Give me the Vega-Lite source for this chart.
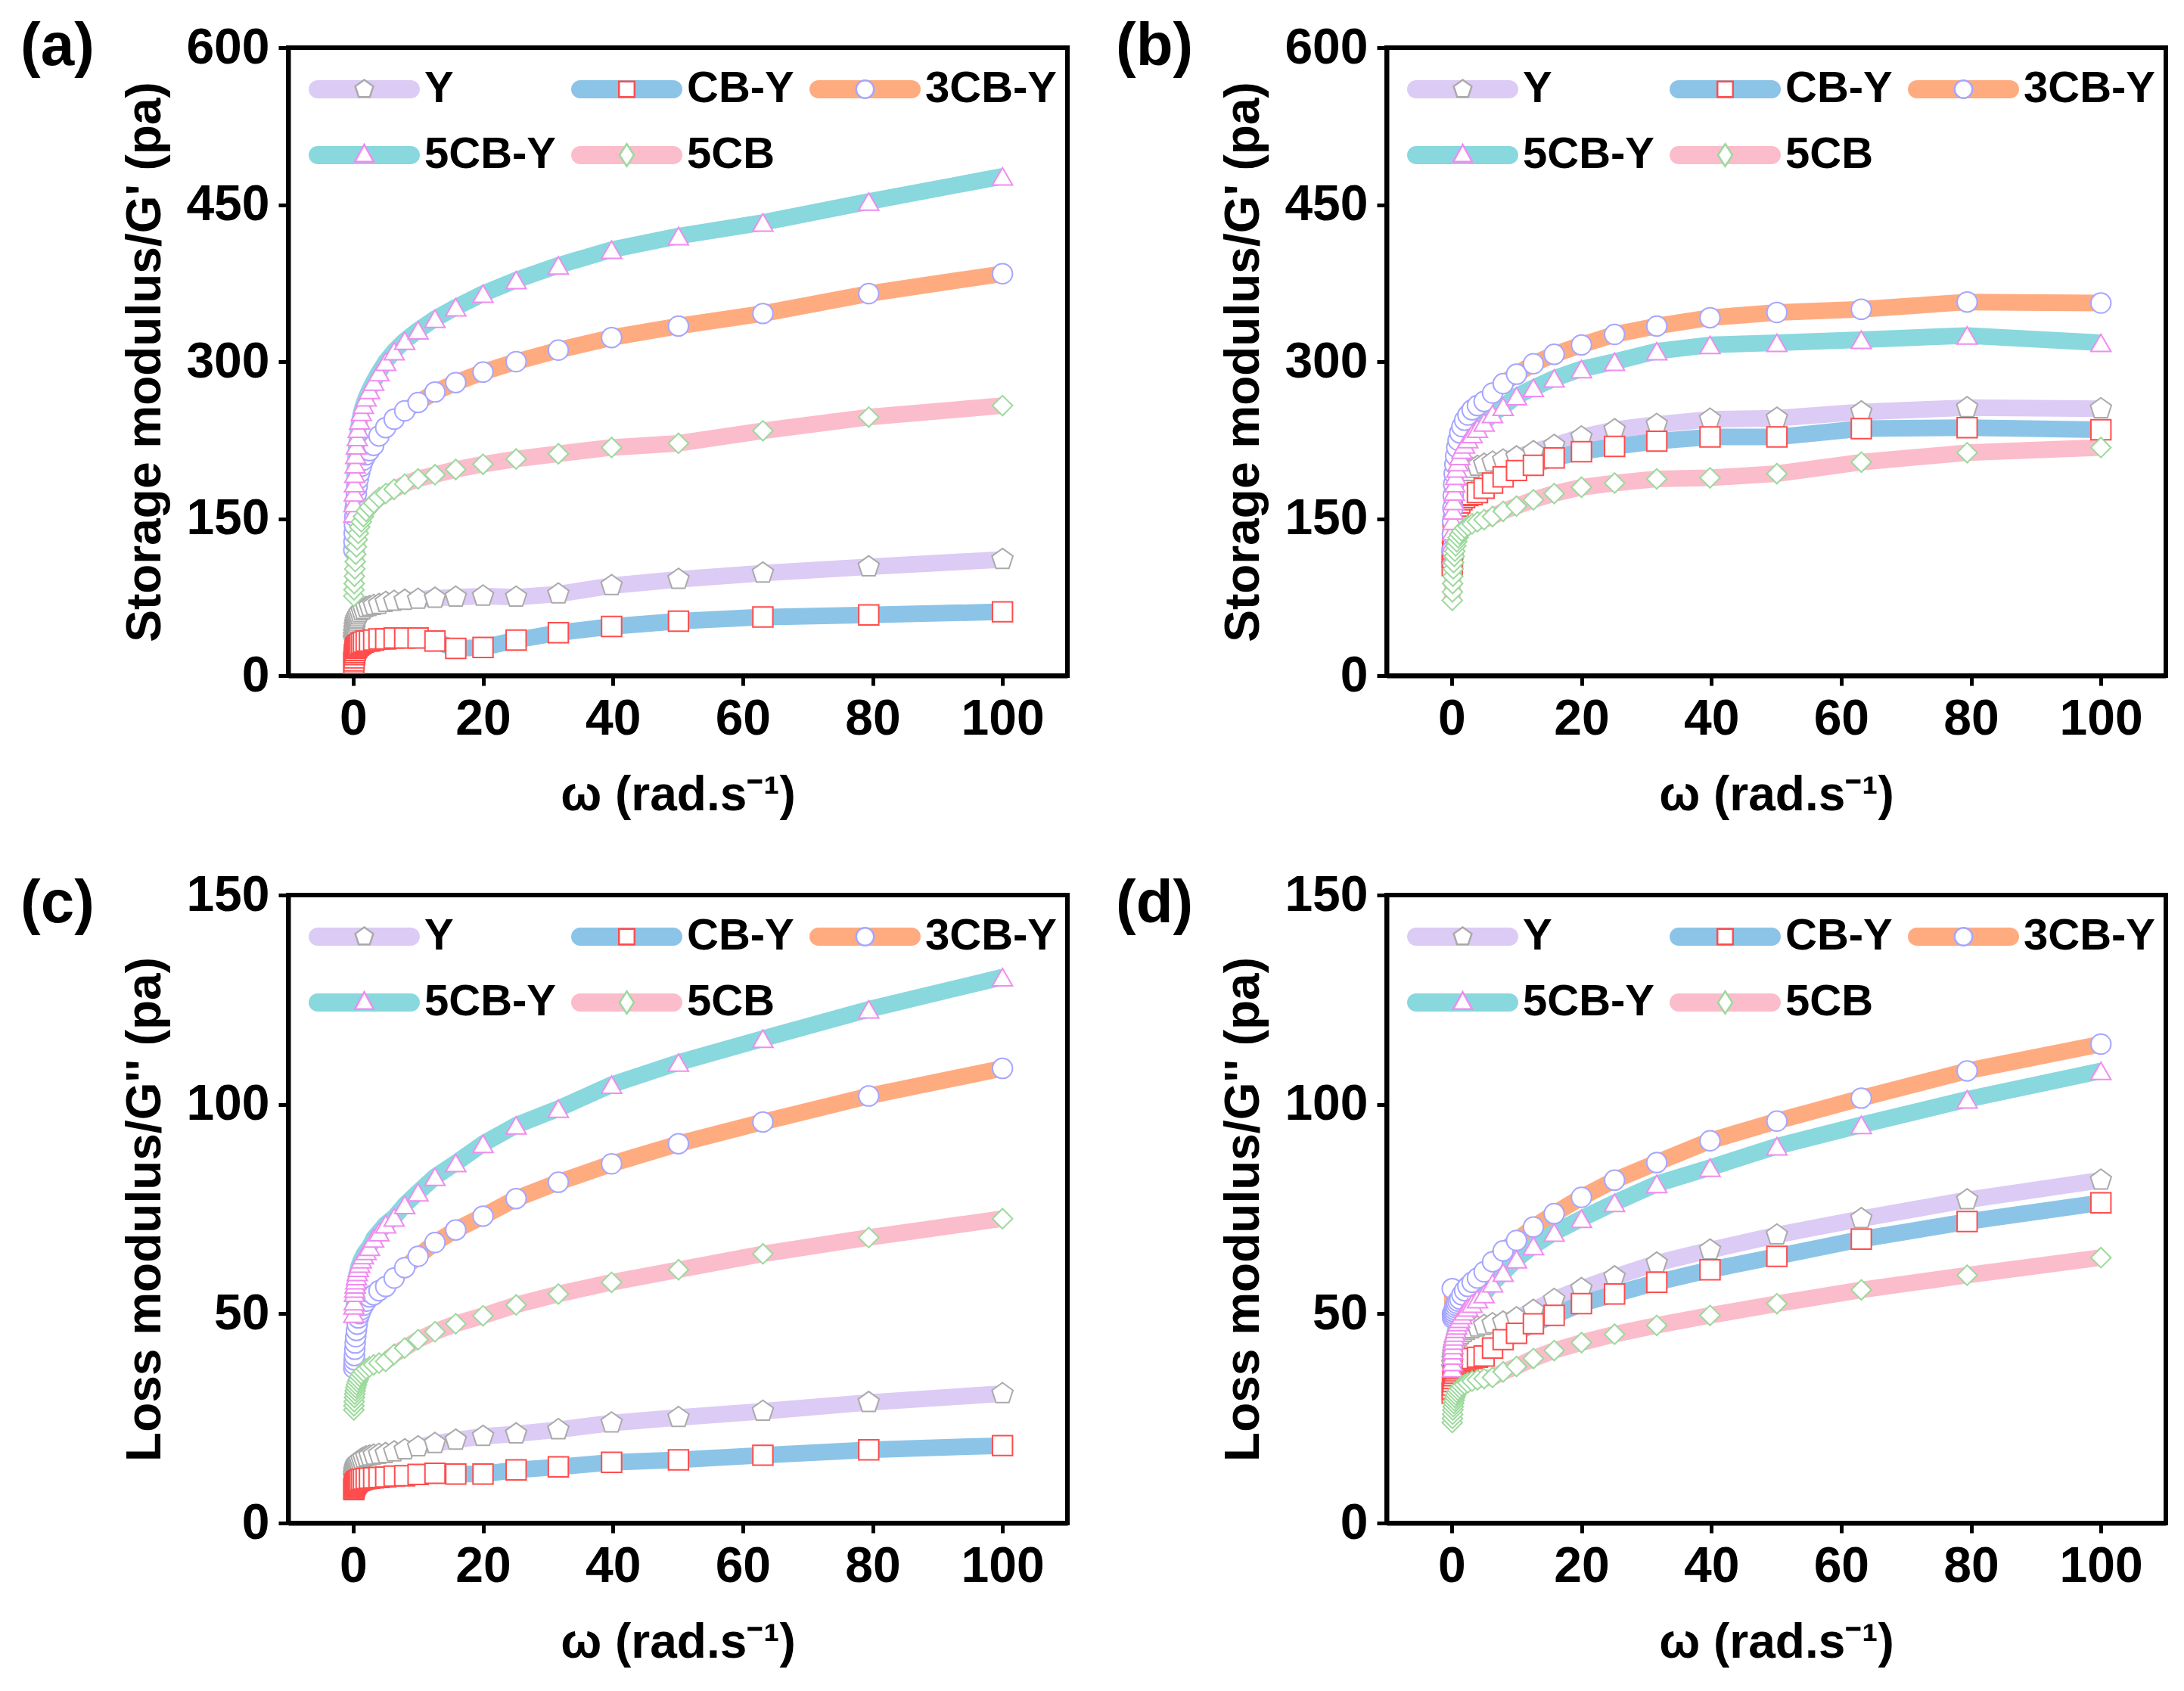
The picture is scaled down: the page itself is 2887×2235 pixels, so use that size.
{
  "$schema": "https://vega.github.io/schema/vega-lite/v6.json",
  "background": "white",
  "padding": {"left": 24, "top": 19, "right": 10, "bottom": 10},
  "datasets": {
    "a": [
      {"s":"Y","w":0.1,"v":35},{"s":"Y","w":0.126,"v":38},{"s":"Y","w":0.158,"v":41},{"s":"Y","w":0.2,"v":44},{"s":"Y","w":0.251,"v":47},{"s":"Y","w":0.316,"v":50},{"s":"Y","w":0.398,"v":52},{"s":"Y","w":0.501,"v":54},{"s":"Y","w":0.631,"v":56},{"s":"Y","w":0.794,"v":58},{"s":"Y","w":1,"v":60},{"s":"Y","w":1.26,"v":62},{"s":"Y","w":1.58,"v":63},{"s":"Y","w":2,"v":65},{"s":"Y","w":2.51,"v":66},{"s":"Y","w":3.16,"v":67},{"s":"Y","w":3.98,"v":68},{"s":"Y","w":5.01,"v":70},{"s":"Y","w":6.31,"v":71},{"s":"Y","w":7.94,"v":72},{"s":"Y","w":10,"v":73},{"s":"Y","w":12.6,"v":74},{"s":"Y","w":15.8,"v":75},{"s":"Y","w":20,"v":76},{"s":"Y","w":25.1,"v":75},{"s":"Y","w":31.6,"v":78},{"s":"Y","w":39.8,"v":86},{"s":"Y","w":50.1,"v":92},{"s":"Y","w":63.1,"v":98},{"s":"Y","w":79.4,"v":104},{"s":"Y","w":100,"v":111},
      {"s":"CB-Y","w":0.1,"v":12},{"s":"CB-Y","w":0.126,"v":14},{"s":"CB-Y","w":0.158,"v":17},{"s":"CB-Y","w":0.2,"v":20},{"s":"CB-Y","w":0.251,"v":22},{"s":"CB-Y","w":0.316,"v":24},{"s":"CB-Y","w":0.398,"v":26},{"s":"CB-Y","w":0.501,"v":27},{"s":"CB-Y","w":0.631,"v":28},{"s":"CB-Y","w":0.794,"v":29},{"s":"CB-Y","w":1,"v":30},{"s":"CB-Y","w":1.26,"v":31},{"s":"CB-Y","w":1.58,"v":32},{"s":"CB-Y","w":2,"v":33},{"s":"CB-Y","w":2.51,"v":33},{"s":"CB-Y","w":3.16,"v":34},{"s":"CB-Y","w":3.98,"v":35},{"s":"CB-Y","w":5.01,"v":35},{"s":"CB-Y","w":6.31,"v":36},{"s":"CB-Y","w":7.94,"v":36},{"s":"CB-Y","w":10,"v":36},{"s":"CB-Y","w":12.6,"v":33},{"s":"CB-Y","w":15.8,"v":26},{"s":"CB-Y","w":20,"v":27},{"s":"CB-Y","w":25.1,"v":34},{"s":"CB-Y","w":31.6,"v":41},{"s":"CB-Y","w":39.8,"v":47},{"s":"CB-Y","w":50.1,"v":52},{"s":"CB-Y","w":63.1,"v":56},{"s":"CB-Y","w":79.4,"v":58},{"s":"CB-Y","w":100,"v":61},
      {"s":"3CB-Y","w":0.1,"v":120},{"s":"3CB-Y","w":0.126,"v":128},{"s":"3CB-Y","w":0.158,"v":136},{"s":"3CB-Y","w":0.2,"v":144},{"s":"3CB-Y","w":0.251,"v":152},{"s":"3CB-Y","w":0.316,"v":160},{"s":"3CB-Y","w":0.398,"v":167},{"s":"3CB-Y","w":0.501,"v":174},{"s":"3CB-Y","w":0.631,"v":181},{"s":"3CB-Y","w":0.794,"v":188},{"s":"3CB-Y","w":1,"v":194},{"s":"3CB-Y","w":1.26,"v":200},{"s":"3CB-Y","w":1.58,"v":206},{"s":"3CB-Y","w":2,"v":211},{"s":"3CB-Y","w":2.51,"v":215},{"s":"3CB-Y","w":3.16,"v":220},{"s":"3CB-Y","w":3.98,"v":229},{"s":"3CB-Y","w":5.01,"v":237},{"s":"3CB-Y","w":6.31,"v":245},{"s":"3CB-Y","w":7.94,"v":253},{"s":"3CB-Y","w":10,"v":261},{"s":"3CB-Y","w":12.6,"v":271},{"s":"3CB-Y","w":15.8,"v":280},{"s":"3CB-Y","w":20,"v":290},{"s":"3CB-Y","w":25.1,"v":300},{"s":"3CB-Y","w":31.6,"v":311},{"s":"3CB-Y","w":39.8,"v":323},{"s":"3CB-Y","w":50.1,"v":334},{"s":"3CB-Y","w":63.1,"v":346},{"s":"3CB-Y","w":79.4,"v":365},{"s":"3CB-Y","w":100,"v":384},
      {"s":"5CB-Y","w":0.1,"v":155},{"s":"5CB-Y","w":0.126,"v":165},{"s":"5CB-Y","w":0.158,"v":175},{"s":"5CB-Y","w":0.2,"v":184},{"s":"5CB-Y","w":0.251,"v":193},{"s":"5CB-Y","w":0.316,"v":202},{"s":"5CB-Y","w":0.398,"v":211},{"s":"5CB-Y","w":0.501,"v":220},{"s":"5CB-Y","w":0.631,"v":228},{"s":"5CB-Y","w":0.794,"v":236},{"s":"5CB-Y","w":1,"v":244},{"s":"5CB-Y","w":1.26,"v":252},{"s":"5CB-Y","w":1.58,"v":259},{"s":"5CB-Y","w":2,"v":266},{"s":"5CB-Y","w":2.51,"v":273},{"s":"5CB-Y","w":3.16,"v":281},{"s":"5CB-Y","w":3.98,"v":290},{"s":"5CB-Y","w":5.01,"v":300},{"s":"5CB-Y","w":6.31,"v":310},{"s":"5CB-Y","w":7.94,"v":320},{"s":"5CB-Y","w":10,"v":330},{"s":"5CB-Y","w":12.6,"v":341},{"s":"5CB-Y","w":15.8,"v":352},{"s":"5CB-Y","w":20,"v":365},{"s":"5CB-Y","w":25.1,"v":378},{"s":"5CB-Y","w":31.6,"v":392},{"s":"5CB-Y","w":39.8,"v":407},{"s":"5CB-Y","w":50.1,"v":420},{"s":"5CB-Y","w":63.1,"v":433},{"s":"5CB-Y","w":79.4,"v":453},{"s":"5CB-Y","w":100,"v":477},
      {"s":"5CB","w":0.1,"v":76},{"s":"5CB","w":0.126,"v":82},{"s":"5CB","w":0.158,"v":88},{"s":"5CB","w":0.2,"v":95},{"s":"5CB","w":0.251,"v":102},{"s":"5CB","w":0.316,"v":109},{"s":"5CB","w":0.398,"v":116},{"s":"5CB","w":0.501,"v":123},{"s":"5CB","w":0.631,"v":130},{"s":"5CB","w":0.794,"v":136},{"s":"5CB","w":1,"v":142},{"s":"5CB","w":1.26,"v":147},{"s":"5CB","w":1.58,"v":152},{"s":"5CB","w":2,"v":157},{"s":"5CB","w":2.51,"v":161},{"s":"5CB","w":3.16,"v":165},{"s":"5CB","w":3.98,"v":170},{"s":"5CB","w":5.01,"v":174},{"s":"5CB","w":6.31,"v":178},{"s":"5CB","w":7.94,"v":183},{"s":"5CB","w":10,"v":188},{"s":"5CB","w":12.6,"v":192},{"s":"5CB","w":15.8,"v":197},{"s":"5CB","w":20,"v":202},{"s":"5CB","w":25.1,"v":207},{"s":"5CB","w":31.6,"v":212},{"s":"5CB","w":39.8,"v":218},{"s":"5CB","w":50.1,"v":222},{"s":"5CB","w":63.1,"v":234},{"s":"5CB","w":79.4,"v":247},{"s":"5CB","w":100,"v":258}
    ],
    "b": [
      {"s":"Y","w":0.1,"v":105},{"s":"Y","w":0.126,"v":115},{"s":"Y","w":0.158,"v":124},{"s":"Y","w":0.2,"v":133},{"s":"Y","w":0.251,"v":141},{"s":"Y","w":0.316,"v":149},{"s":"Y","w":0.398,"v":156},{"s":"Y","w":0.501,"v":163},{"s":"Y","w":0.631,"v":169},{"s":"Y","w":0.794,"v":175},{"s":"Y","w":1,"v":180},{"s":"Y","w":1.26,"v":184},{"s":"Y","w":1.58,"v":188},{"s":"Y","w":2,"v":192},{"s":"Y","w":2.51,"v":195},{"s":"Y","w":3.16,"v":198},{"s":"Y","w":3.98,"v":200},{"s":"Y","w":5.01,"v":202},{"s":"Y","w":6.31,"v":204},{"s":"Y","w":7.94,"v":206},{"s":"Y","w":10,"v":209},{"s":"Y","w":12.6,"v":214},{"s":"Y","w":15.8,"v":220},{"s":"Y","w":20,"v":228},{"s":"Y","w":25.1,"v":235},{"s":"Y","w":31.6,"v":240},{"s":"Y","w":39.8,"v":245},{"s":"Y","w":50.1,"v":246},{"s":"Y","w":63.1,"v":252},{"s":"Y","w":79.4,"v":256},{"s":"Y","w":100,"v":255},
      {"s":"CB-Y","w":0.1,"v":105},{"s":"CB-Y","w":0.126,"v":113},{"s":"CB-Y","w":0.158,"v":121},{"s":"CB-Y","w":0.2,"v":128},{"s":"CB-Y","w":0.251,"v":135},{"s":"CB-Y","w":0.316,"v":141},{"s":"CB-Y","w":0.398,"v":146},{"s":"CB-Y","w":0.501,"v":151},{"s":"CB-Y","w":0.631,"v":155},{"s":"CB-Y","w":0.794,"v":159},{"s":"CB-Y","w":1,"v":162},{"s":"CB-Y","w":1.26,"v":165},{"s":"CB-Y","w":1.58,"v":168},{"s":"CB-Y","w":2,"v":170},{"s":"CB-Y","w":2.51,"v":172},{"s":"CB-Y","w":3.16,"v":173},{"s":"CB-Y","w":3.98,"v":175},{"s":"CB-Y","w":5.01,"v":179},{"s":"CB-Y","w":6.31,"v":184},{"s":"CB-Y","w":7.94,"v":190},{"s":"CB-Y","w":10,"v":196},{"s":"CB-Y","w":12.6,"v":201},{"s":"CB-Y","w":15.8,"v":208},{"s":"CB-Y","w":20,"v":214},{"s":"CB-Y","w":25.1,"v":219},{"s":"CB-Y","w":31.6,"v":224},{"s":"CB-Y","w":39.8,"v":228},{"s":"CB-Y","w":50.1,"v":228},{"s":"CB-Y","w":63.1,"v":236},{"s":"CB-Y","w":79.4,"v":237},{"s":"CB-Y","w":100,"v":235},
      {"s":"3CB-Y","w":0.1,"v":120},{"s":"3CB-Y","w":0.126,"v":135},{"s":"3CB-Y","w":0.158,"v":148},{"s":"3CB-Y","w":0.2,"v":160},{"s":"3CB-Y","w":0.251,"v":172},{"s":"3CB-Y","w":0.316,"v":183},{"s":"3CB-Y","w":0.398,"v":193},{"s":"3CB-Y","w":0.501,"v":202},{"s":"3CB-Y","w":0.631,"v":210},{"s":"3CB-Y","w":0.794,"v":218},{"s":"3CB-Y","w":1,"v":225},{"s":"3CB-Y","w":1.26,"v":232},{"s":"3CB-Y","w":1.58,"v":238},{"s":"3CB-Y","w":2,"v":244},{"s":"3CB-Y","w":2.51,"v":249},{"s":"3CB-Y","w":3.16,"v":254},{"s":"3CB-Y","w":3.98,"v":258},{"s":"3CB-Y","w":5.01,"v":262},{"s":"3CB-Y","w":6.31,"v":270},{"s":"3CB-Y","w":7.94,"v":279},{"s":"3CB-Y","w":10,"v":288},{"s":"3CB-Y","w":12.6,"v":298},{"s":"3CB-Y","w":15.8,"v":307},{"s":"3CB-Y","w":20,"v":316},{"s":"3CB-Y","w":25.1,"v":326},{"s":"3CB-Y","w":31.6,"v":334},{"s":"3CB-Y","w":39.8,"v":342},{"s":"3CB-Y","w":50.1,"v":347},{"s":"3CB-Y","w":63.1,"v":350},{"s":"3CB-Y","w":79.4,"v":357},{"s":"3CB-Y","w":100,"v":356},
      {"s":"5CB-Y","w":0.1,"v":115},{"s":"5CB-Y","w":0.126,"v":127},{"s":"5CB-Y","w":0.158,"v":138},{"s":"5CB-Y","w":0.2,"v":148},{"s":"5CB-Y","w":0.251,"v":158},{"s":"5CB-Y","w":0.316,"v":167},{"s":"5CB-Y","w":0.398,"v":176},{"s":"5CB-Y","w":0.501,"v":184},{"s":"5CB-Y","w":0.631,"v":191},{"s":"5CB-Y","w":0.794,"v":198},{"s":"5CB-Y","w":1,"v":204},{"s":"5CB-Y","w":1.26,"v":210},{"s":"5CB-Y","w":1.58,"v":216},{"s":"5CB-Y","w":2,"v":221},{"s":"5CB-Y","w":2.51,"v":226},{"s":"5CB-Y","w":3.16,"v":231},{"s":"5CB-Y","w":3.98,"v":236},{"s":"5CB-Y","w":5.01,"v":242},{"s":"5CB-Y","w":6.31,"v":250},{"s":"5CB-Y","w":7.94,"v":257},{"s":"5CB-Y","w":10,"v":267},{"s":"5CB-Y","w":12.6,"v":275},{"s":"5CB-Y","w":15.8,"v":284},{"s":"5CB-Y","w":20,"v":293},{"s":"5CB-Y","w":25.1,"v":300},{"s":"5CB-Y","w":31.6,"v":310},{"s":"5CB-Y","w":39.8,"v":316},{"s":"5CB-Y","w":50.1,"v":318},{"s":"5CB-Y","w":63.1,"v":321},{"s":"5CB-Y","w":79.4,"v":325},{"s":"5CB-Y","w":100,"v":318},
      {"s":"5CB","w":0.1,"v":72},{"s":"5CB","w":0.126,"v":80},{"s":"5CB","w":0.158,"v":88},{"s":"5CB","w":0.2,"v":95},{"s":"5CB","w":0.251,"v":102},{"s":"5CB","w":0.316,"v":108},{"s":"5CB","w":0.398,"v":114},{"s":"5CB","w":0.501,"v":119},{"s":"5CB","w":0.631,"v":124},{"s":"5CB","w":0.794,"v":128},{"s":"5CB","w":1,"v":132},{"s":"5CB","w":1.26,"v":135},{"s":"5CB","w":1.58,"v":138},{"s":"5CB","w":2,"v":141},{"s":"5CB","w":2.51,"v":143},{"s":"5CB","w":3.16,"v":145},{"s":"5CB","w":3.98,"v":147},{"s":"5CB","w":5.01,"v":149},{"s":"5CB","w":6.31,"v":152},{"s":"5CB","w":7.94,"v":157},{"s":"5CB","w":10,"v":162},{"s":"5CB","w":12.6,"v":168},{"s":"5CB","w":15.8,"v":174},{"s":"5CB","w":20,"v":180},{"s":"5CB","w":25.1,"v":184},{"s":"5CB","w":31.6,"v":188},{"s":"5CB","w":39.8,"v":189},{"s":"5CB","w":50.1,"v":193},{"s":"5CB","w":63.1,"v":204},{"s":"5CB","w":79.4,"v":213},{"s":"5CB","w":100,"v":218}
    ],
    "c": [
      {"s":"Y","w":0.1,"v":11},{"s":"Y","w":0.126,"v":11.5},{"s":"Y","w":0.158,"v":12},{"s":"Y","w":0.2,"v":12.4},{"s":"Y","w":0.251,"v":12.8},{"s":"Y","w":0.316,"v":13.2},{"s":"Y","w":0.398,"v":13.6},{"s":"Y","w":0.501,"v":14},{"s":"Y","w":0.631,"v":14.3},{"s":"Y","w":0.794,"v":14.6},{"s":"Y","w":1,"v":14.9},{"s":"Y","w":1.26,"v":15.2},{"s":"Y","w":1.58,"v":15.5},{"s":"Y","w":2,"v":15.8},{"s":"Y","w":2.51,"v":16},{"s":"Y","w":3.16,"v":16.2},{"s":"Y","w":3.98,"v":16.4},{"s":"Y","w":5.01,"v":16.6},{"s":"Y","w":6.31,"v":17},{"s":"Y","w":7.94,"v":17.5},{"s":"Y","w":10,"v":18.2},{"s":"Y","w":12.6,"v":19},{"s":"Y","w":15.8,"v":19.8},{"s":"Y","w":20,"v":20.7},{"s":"Y","w":25.1,"v":21.3},{"s":"Y","w":31.6,"v":22.3},{"s":"Y","w":39.8,"v":23.9},{"s":"Y","w":50.1,"v":25.2},{"s":"Y","w":63.1,"v":26.7},{"s":"Y","w":79.4,"v":28.8},{"s":"Y","w":100,"v":30.9},
      {"s":"CB-Y","w":0.1,"v":8},{"s":"CB-Y","w":0.126,"v":8.3},{"s":"CB-Y","w":0.158,"v":8.6},{"s":"CB-Y","w":0.2,"v":8.9},{"s":"CB-Y","w":0.251,"v":9.1},{"s":"CB-Y","w":0.316,"v":9.3},{"s":"CB-Y","w":0.398,"v":9.5},{"s":"CB-Y","w":0.501,"v":9.7},{"s":"CB-Y","w":0.631,"v":9.9},{"s":"CB-Y","w":0.794,"v":10.1},{"s":"CB-Y","w":1,"v":10.2},{"s":"CB-Y","w":1.26,"v":10.4},{"s":"CB-Y","w":1.58,"v":10.5},{"s":"CB-Y","w":2,"v":10.6},{"s":"CB-Y","w":2.51,"v":10.7},{"s":"CB-Y","w":3.16,"v":10.8},{"s":"CB-Y","w":3.98,"v":10.9},{"s":"CB-Y","w":5.01,"v":11},{"s":"CB-Y","w":6.31,"v":11.2},{"s":"CB-Y","w":7.94,"v":11.3},{"s":"CB-Y","w":10,"v":11.6},{"s":"CB-Y","w":12.6,"v":11.9},{"s":"CB-Y","w":15.8,"v":11.7},{"s":"CB-Y","w":20,"v":11.7},{"s":"CB-Y","w":25.1,"v":12.7},{"s":"CB-Y","w":31.6,"v":13.4},{"s":"CB-Y","w":39.8,"v":14.5},{"s":"CB-Y","w":50.1,"v":15.1},{"s":"CB-Y","w":63.1,"v":16.2},{"s":"CB-Y","w":79.4,"v":17.5},{"s":"CB-Y","w":100,"v":18.5},
      {"s":"3CB-Y","w":0.1,"v":37},{"s":"3CB-Y","w":0.126,"v":38},{"s":"3CB-Y","w":0.158,"v":39},{"s":"3CB-Y","w":0.2,"v":40},{"s":"3CB-Y","w":0.251,"v":41.5},{"s":"3CB-Y","w":0.316,"v":43},{"s":"3CB-Y","w":0.398,"v":44.5},{"s":"3CB-Y","w":0.501,"v":46},{"s":"3CB-Y","w":0.631,"v":47.5},{"s":"3CB-Y","w":0.794,"v":49},{"s":"3CB-Y","w":1,"v":50},{"s":"3CB-Y","w":1.26,"v":51},{"s":"3CB-Y","w":1.58,"v":52},{"s":"3CB-Y","w":2,"v":53},{"s":"3CB-Y","w":2.51,"v":54},{"s":"3CB-Y","w":3.16,"v":54.5},{"s":"3CB-Y","w":3.98,"v":55.5},{"s":"3CB-Y","w":5.01,"v":56.5},{"s":"3CB-Y","w":6.31,"v":58.5},{"s":"3CB-Y","w":7.94,"v":61},{"s":"3CB-Y","w":10,"v":63.7},{"s":"3CB-Y","w":12.6,"v":67},{"s":"3CB-Y","w":15.8,"v":70},{"s":"3CB-Y","w":20,"v":73.3},{"s":"3CB-Y","w":25.1,"v":77.5},{"s":"3CB-Y","w":31.6,"v":81.4},{"s":"3CB-Y","w":39.8,"v":85.8},{"s":"3CB-Y","w":50.1,"v":90.6},{"s":"3CB-Y","w":63.1,"v":95.8},{"s":"3CB-Y","w":79.4,"v":102},{"s":"3CB-Y","w":100,"v":108.6},
      {"s":"5CB-Y","w":0.1,"v":50},{"s":"5CB-Y","w":0.126,"v":52},{"s":"5CB-Y","w":0.158,"v":53},{"s":"5CB-Y","w":0.2,"v":55},{"s":"5CB-Y","w":0.251,"v":56},{"s":"5CB-Y","w":0.316,"v":57},{"s":"5CB-Y","w":0.398,"v":58},{"s":"5CB-Y","w":0.501,"v":59},{"s":"5CB-Y","w":0.631,"v":60},{"s":"5CB-Y","w":0.794,"v":61},{"s":"5CB-Y","w":1,"v":62},{"s":"5CB-Y","w":1.26,"v":63},{"s":"5CB-Y","w":1.58,"v":64},{"s":"5CB-Y","w":2,"v":65},{"s":"5CB-Y","w":2.51,"v":66},{"s":"5CB-Y","w":3.16,"v":68},{"s":"5CB-Y","w":3.98,"v":69.5},{"s":"5CB-Y","w":5.01,"v":71.4},{"s":"5CB-Y","w":6.31,"v":73},{"s":"5CB-Y","w":7.94,"v":76},{"s":"5CB-Y","w":10,"v":79},{"s":"5CB-Y","w":12.6,"v":82.7},{"s":"5CB-Y","w":15.8,"v":86},{"s":"5CB-Y","w":20,"v":90.6},{"s":"5CB-Y","w":25.1,"v":95},{"s":"5CB-Y","w":31.6,"v":99},{"s":"5CB-Y","w":39.8,"v":104.7},{"s":"5CB-Y","w":50.1,"v":110},{"s":"5CB-Y","w":63.1,"v":115.7},{"s":"5CB-Y","w":79.4,"v":122.7},{"s":"5CB-Y","w":100,"v":130.4},
      {"s":"5CB","w":0.1,"v":27},{"s":"5CB","w":0.126,"v":28},{"s":"5CB","w":0.158,"v":29},{"s":"5CB","w":0.2,"v":30},{"s":"5CB","w":0.251,"v":30.8},{"s":"5CB","w":0.316,"v":31.6},{"s":"5CB","w":0.398,"v":32.3},{"s":"5CB","w":0.501,"v":33},{"s":"5CB","w":0.631,"v":33.7},{"s":"5CB","w":0.794,"v":34.3},{"s":"5CB","w":1,"v":35},{"s":"5CB","w":1.26,"v":35.6},{"s":"5CB","w":1.58,"v":36.2},{"s":"5CB","w":2,"v":36.8},{"s":"5CB","w":2.51,"v":37.3},{"s":"5CB","w":3.16,"v":37.8},{"s":"5CB","w":3.98,"v":38.2},{"s":"5CB","w":5.01,"v":38.6},{"s":"5CB","w":6.31,"v":40.3},{"s":"5CB","w":7.94,"v":41.8},{"s":"5CB","w":10,"v":43.8},{"s":"5CB","w":12.6,"v":45.7},{"s":"5CB","w":15.8,"v":47.6},{"s":"5CB","w":20,"v":49.5},{"s":"5CB","w":25.1,"v":52.1},{"s":"5CB","w":31.6,"v":54.7},{"s":"5CB","w":39.8,"v":57.5},{"s":"5CB","w":50.1,"v":60.5},{"s":"5CB","w":63.1,"v":64.3},{"s":"5CB","w":79.4,"v":68.2},{"s":"5CB","w":100,"v":72.7}
    ],
    "d": [
      {"s":"Y","w":0.1,"v":37},{"s":"Y","w":0.126,"v":38},{"s":"Y","w":0.158,"v":39},{"s":"Y","w":0.2,"v":39.8},{"s":"Y","w":0.251,"v":40.5},{"s":"Y","w":0.316,"v":41.2},{"s":"Y","w":0.398,"v":41.8},{"s":"Y","w":0.501,"v":42.4},{"s":"Y","w":0.631,"v":43},{"s":"Y","w":0.794,"v":43.5},{"s":"Y","w":1,"v":44},{"s":"Y","w":1.26,"v":44.5},{"s":"Y","w":1.58,"v":45},{"s":"Y","w":2,"v":45.5},{"s":"Y","w":2.51,"v":46},{"s":"Y","w":3.16,"v":46.4},{"s":"Y","w":3.98,"v":46.8},{"s":"Y","w":5.01,"v":47.2},{"s":"Y","w":6.31,"v":47.6},{"s":"Y","w":7.94,"v":48},{"s":"Y","w":10,"v":49},{"s":"Y","w":12.6,"v":50.8},{"s":"Y","w":15.8,"v":53.4},{"s":"Y","w":20,"v":56},{"s":"Y","w":25.1,"v":58.8},{"s":"Y","w":31.6,"v":62.1},{"s":"Y","w":39.8,"v":65.2},{"s":"Y","w":50.1,"v":68.8},{"s":"Y","w":63.1,"v":72.7},{"s":"Y","w":79.4,"v":77.2},{"s":"Y","w":100,"v":81.9},
      {"s":"CB-Y","w":0.1,"v":31},{"s":"CB-Y","w":0.126,"v":32},{"s":"CB-Y","w":0.158,"v":33},{"s":"CB-Y","w":0.2,"v":33.8},{"s":"CB-Y","w":0.251,"v":34.5},{"s":"CB-Y","w":0.316,"v":35.2},{"s":"CB-Y","w":0.398,"v":35.8},{"s":"CB-Y","w":0.501,"v":36.3},{"s":"CB-Y","w":0.631,"v":36.8},{"s":"CB-Y","w":0.794,"v":37.2},{"s":"CB-Y","w":1,"v":37.6},{"s":"CB-Y","w":1.26,"v":38},{"s":"CB-Y","w":1.58,"v":38.4},{"s":"CB-Y","w":2,"v":38.7},{"s":"CB-Y","w":2.51,"v":39},{"s":"CB-Y","w":3.16,"v":39.3},{"s":"CB-Y","w":3.98,"v":39.6},{"s":"CB-Y","w":5.01,"v":39.9},{"s":"CB-Y","w":6.31,"v":41.8},{"s":"CB-Y","w":7.94,"v":43.8},{"s":"CB-Y","w":10,"v":45.3},{"s":"CB-Y","w":12.6,"v":47.6},{"s":"CB-Y","w":15.8,"v":49.6},{"s":"CB-Y","w":20,"v":52.4},{"s":"CB-Y","w":25.1,"v":54.7},{"s":"CB-Y","w":31.6,"v":57.5},{"s":"CB-Y","w":39.8,"v":60.5},{"s":"CB-Y","w":50.1,"v":63.7},{"s":"CB-Y","w":63.1,"v":67.8},{"s":"CB-Y","w":79.4,"v":72},{"s":"CB-Y","w":100,"v":76.5},
      {"s":"3CB-Y","w":0.1,"v":56},{"s":"3CB-Y","w":0.126,"v":50},{"s":"3CB-Y","w":0.158,"v":49},{"s":"3CB-Y","w":0.2,"v":49.5},{"s":"3CB-Y","w":0.251,"v":50},{"s":"3CB-Y","w":0.316,"v":50.5},{"s":"3CB-Y","w":0.398,"v":51},{"s":"3CB-Y","w":0.501,"v":51.5},{"s":"3CB-Y","w":0.631,"v":52},{"s":"3CB-Y","w":0.794,"v":52.5},{"s":"3CB-Y","w":1,"v":53},{"s":"3CB-Y","w":1.26,"v":53.5},{"s":"3CB-Y","w":1.58,"v":54.5},{"s":"3CB-Y","w":2,"v":55.5},{"s":"3CB-Y","w":2.51,"v":56.5},{"s":"3CB-Y","w":3.16,"v":57.5},{"s":"3CB-Y","w":3.98,"v":58.5},{"s":"3CB-Y","w":5.01,"v":60},{"s":"3CB-Y","w":6.31,"v":62.4},{"s":"3CB-Y","w":7.94,"v":65},{"s":"3CB-Y","w":10,"v":67.5},{"s":"3CB-Y","w":12.6,"v":70.7},{"s":"3CB-Y","w":15.8,"v":73.9},{"s":"3CB-Y","w":20,"v":77.8},{"s":"3CB-Y","w":25.1,"v":81.9},{"s":"3CB-Y","w":31.6,"v":86.1},{"s":"3CB-Y","w":39.8,"v":91.3},{"s":"3CB-Y","w":50.1,"v":96},{"s":"3CB-Y","w":63.1,"v":101.5},{"s":"3CB-Y","w":79.4,"v":108},{"s":"3CB-Y","w":100,"v":114.4},
      {"s":"5CB-Y","w":0.1,"v":37},{"s":"5CB-Y","w":0.126,"v":38.5},{"s":"5CB-Y","w":0.158,"v":40},{"s":"5CB-Y","w":0.2,"v":41.3},{"s":"5CB-Y","w":0.251,"v":42.5},{"s":"5CB-Y","w":0.316,"v":43.6},{"s":"5CB-Y","w":0.398,"v":44.6},{"s":"5CB-Y","w":0.501,"v":45.5},{"s":"5CB-Y","w":0.631,"v":46.4},{"s":"5CB-Y","w":0.794,"v":47.2},{"s":"5CB-Y","w":1,"v":48},{"s":"5CB-Y","w":1.26,"v":48.8},{"s":"5CB-Y","w":1.58,"v":49.7},{"s":"5CB-Y","w":2,"v":50.6},{"s":"5CB-Y","w":2.51,"v":51.5},{"s":"5CB-Y","w":3.16,"v":52.4},{"s":"5CB-Y","w":3.98,"v":53.5},{"s":"5CB-Y","w":5.01,"v":54.7},{"s":"5CB-Y","w":6.31,"v":57.3},{"s":"5CB-Y","w":7.94,"v":59.8},{"s":"5CB-Y","w":10,"v":63},{"s":"5CB-Y","w":12.6,"v":66.2},{"s":"5CB-Y","w":15.8,"v":69.4},{"s":"5CB-Y","w":20,"v":72.7},{"s":"5CB-Y","w":25.1,"v":76.5},{"s":"5CB-Y","w":31.6,"v":81},{"s":"5CB-Y","w":39.8,"v":84.9},{"s":"5CB-Y","w":50.1,"v":90},{"s":"5CB-Y","w":63.1,"v":95.1},{"s":"5CB-Y","w":79.4,"v":101.2},{"s":"5CB-Y","w":100,"v":108},
      {"s":"5CB","w":0.1,"v":24},{"s":"5CB","w":0.126,"v":25},{"s":"5CB","w":0.158,"v":26},{"s":"5CB","w":0.2,"v":27},{"s":"5CB","w":0.251,"v":27.8},{"s":"5CB","w":0.316,"v":28.6},{"s":"5CB","w":0.398,"v":29.3},{"s":"5CB","w":0.501,"v":30},{"s":"5CB","w":0.631,"v":30.6},{"s":"5CB","w":0.794,"v":31.2},{"s":"5CB","w":1,"v":31.7},{"s":"5CB","w":1.26,"v":32.2},{"s":"5CB","w":1.58,"v":32.7},{"s":"5CB","w":2,"v":33.1},{"s":"5CB","w":2.51,"v":33.5},{"s":"5CB","w":3.16,"v":33.9},{"s":"5CB","w":3.98,"v":34.2},{"s":"5CB","w":5.01,"v":34.5},{"s":"5CB","w":6.31,"v":34.8},{"s":"5CB","w":7.94,"v":36.1},{"s":"5CB","w":10,"v":37.4},{"s":"5CB","w":12.6,"v":39.3},{"s":"5CB","w":15.8,"v":41.2},{"s":"5CB","w":20,"v":43.1},{"s":"5CB","w":25.1,"v":45.1},{"s":"5CB","w":31.6,"v":47.2},{"s":"5CB","w":39.8,"v":49.6},{"s":"5CB","w":50.1,"v":52.4},{"s":"5CB","w":63.1,"v":55.7},{"s":"5CB","w":79.4,"v":59.2},{"s":"5CB","w":100,"v":63.4}
    ]
  },
  "columns": 2,
  "spacing": {"row": 290, "column": 422},
  "bounds": "flush",
  "resolve": {
    "scale": {"color": "independent", "shape": "independent", "stroke": "independent"},
    "legend": {"color": "independent", "shape": "independent", "stroke": "independent"}
  },
  "concat": [
    {
      "data": {"name": "a"},
      "width": 1030, "height": 830,
      "title": {"text": "(a)", "anchor": "start", "frame": "group", "orient": "top", "fontSize": 80, "fontWeight": "bold", "font": "Liberation Sans", "color": "black", "offset": 0, "dx": -354, "dy": 73},
      "encoding": {
        "x": {"field": "w", "type": "quantitative", "scale": {"domain": [-10, 110], "nice": false, "zero": false}, "axis": {"values": [0, 20, 40, 60, 80, 100], "title": "ω (rad.s⁻¹)"}},
        "y": {"field": "v", "type": "quantitative", "scale": {"domain": [0, 600], "nice": false}, "axis": {"values": [0, 150, 300, 450, 600], "title": "Storage modulus/G' (pa)"}}
      },
      "resolve": {"scale": {"color": "independent", "shape": "independent", "stroke": "independent"}},
      "layer": [
        {"mark": {"type": "line", "strokeWidth": 22, "strokeJoin": "round"},
         "encoding": {"color": {"field": "s", "type": "nominal", "scale": {"domain": ["Y", "CB-Y", "3CB-Y", "5CB-Y", "5CB"], "range": ["#dccbf5", "#8cc4e8", "#ffab80", "#88d8de", "#fbbccb"]}, "legend": null}}},
        {"mark": {"type": "point", "filled": true, "fill": "white", "strokeWidth": 2, "size": 700, "opacity": 1},
         "encoding": {
           "shape": {"field": "s", "type": "nominal", "scale": {"domain": ["Y", "CB-Y", "3CB-Y", "5CB-Y", "5CB"], "range": ["M0,-1.1L1.046,-0.34L0.647,0.89L-0.647,0.89L-1.046,-0.34Z", "square", "circle", "triangle-up", "diamond"]}, "legend": null},
           "stroke": {"field": "s", "type": "nominal", "scale": {"domain": ["Y", "CB-Y", "3CB-Y", "5CB-Y", "5CB"], "range": ["#aaaaaa", "#ff4d4d", "#a6a6ff", "#f08cf0", "#9cd99c"]}, "legend": null}}},
        {"transform": [{"filter": {"field": "w", "equal": 100}}],
         "mark": {"type": "point", "filled": true, "opacity": 0, "size": 10},
         "encoding": {
           "shape": {"field": "s", "type": "nominal", "scale": {"domain": ["Y", "CB-Y", "3CB-Y", "5CB-Y", "5CB"], "range": ["M-1.375,-0.268L1.375,-0.268A0.268,0.268 0 0 1 1.375,0.268L-1.375,0.268A0.268,0.268 0 0 1 -1.375,-0.268Z", "M-1.375,-0.268L1.375,-0.268A0.268,0.268 0 0 1 1.375,0.268L-1.375,0.268A0.268,0.268 0 0 1 -1.375,-0.268Z", "M-1.375,-0.268L1.375,-0.268A0.268,0.268 0 0 1 1.375,0.268L-1.375,0.268A0.268,0.268 0 0 1 -1.375,-0.268Z", "M-1.375,-0.268L1.375,-0.268A0.268,0.268 0 0 1 1.375,0.268L-1.375,0.268A0.268,0.268 0 0 1 -1.375,-0.268Z", "M-1.375,-0.268L1.375,-0.268A0.268,0.268 0 0 1 1.375,0.268L-1.375,0.268A0.268,0.268 0 0 1 -1.375,-0.268Z"]},
             "legend": {"title": null, "orient": "none", "direction": "horizontal", "legendX": 54.5, "legendY": 9, "columns": 3, "columnPadding": 14, "rowPadding": 12, "padding": 0, "symbolSize": 8000, "symbolStrokeWidth": 2.5, "symbolStrokeColor": "transparent", "symbolOpacity": 1, "labelFont": "Liberation Sans", "labelFontSize": 58, "labelFontWeight": "bold", "labelColor": "black", "labelOffset": 33.5, "labelLimit": 600, "zindex": 1}},
           "color": {"field": "s", "type": "nominal", "scale": {"domain": ["Y", "CB-Y", "3CB-Y", "5CB-Y", "5CB"], "range": ["#dccbf5", "#8cc4e8", "#ffab80", "#88d8de", "#fbbccb"]},
             "legend": {"title": null, "orient": "none", "direction": "horizontal", "legendX": 54.5, "legendY": 9, "columns": 3, "columnPadding": 14, "rowPadding": 12, "padding": 0, "symbolSize": 8000, "symbolStrokeWidth": 2.5, "symbolStrokeColor": "transparent", "symbolOpacity": 1, "labelFont": "Liberation Sans", "labelFontSize": 58, "labelFontWeight": "bold", "labelColor": "black", "labelOffset": 33.5, "labelLimit": 600, "zindex": 1}}}},
        {"transform": [{"filter": {"field": "w", "equal": 100}}],
         "mark": {"type": "point", "filled": true, "fill": "white", "opacity": 0, "size": 10},
         "encoding": {
           "shape": {"field": "s", "type": "nominal", "scale": {"domain": ["Y", "CB-Y", "3CB-Y", "5CB-Y", "5CB"], "range": ["M0,-0.279L0.266,-0.087L0.164,0.227L-0.164,0.227L-0.266,-0.087ZM-1.644,0ZM1.644,0Z", "M-0.23,-0.23H0.23V0.23H-0.23ZM-1.644,0ZM1.644,0Z", "M0.263,0A0.263,0.263 0 1 1 -0.263,0A0.263,0.263 0 1 1 0.263,0ZM-1.644,0ZM1.644,0Z", "M0,-0.312L0.279,0.197L-0.279,0.197ZM-1.644,0ZM1.644,0Z", "M0,-0.329L0.214,0L0,0.329L-0.214,0ZM-1.644,0ZM1.644,0Z"]},
             "legend": {"title": null, "orient": "none", "direction": "horizontal", "legendX": 54.5, "legendY": 9, "columns": 3, "columnPadding": 14, "rowPadding": 12, "padding": 0, "symbolSize": 8000, "symbolStrokeWidth": 2.5, "symbolFillColor": "white", "symbolOpacity": 1, "labelFont": "Liberation Sans", "labelFontSize": 58, "labelFontWeight": "bold", "labelColor": "black", "labelOpacity": 0, "labelOffset": 33.5, "labelLimit": 600, "zindex": 2}},
           "stroke": {"field": "s", "type": "nominal", "scale": {"domain": ["Y", "CB-Y", "3CB-Y", "5CB-Y", "5CB"], "range": ["#aaaaaa", "#ff4d4d", "#a6a6ff", "#f08cf0", "#9cd99c"]},
             "legend": {"title": null, "orient": "none", "direction": "horizontal", "legendX": 54.5, "legendY": 9, "columns": 3, "columnPadding": 14, "rowPadding": 12, "padding": 0, "symbolSize": 8000, "symbolStrokeWidth": 2.5, "symbolFillColor": "white", "symbolOpacity": 1, "labelFont": "Liberation Sans", "labelFontSize": 58, "labelFontWeight": "bold", "labelColor": "black", "labelOpacity": 0, "labelOffset": 33.5, "labelLimit": 600, "zindex": 2}}}}
      ]
    },
    {
      "data": {"name": "b"},
      "width": 1030, "height": 830,
      "title": {"text": "(b)", "anchor": "start", "frame": "group", "orient": "top", "fontSize": 80, "fontWeight": "bold", "font": "Liberation Sans", "color": "black", "offset": 0, "dx": -358, "dy": 73},
      "encoding": {
        "x": {"field": "w", "type": "quantitative", "scale": {"domain": [-10, 110], "nice": false, "zero": false}, "axis": {"values": [0, 20, 40, 60, 80, 100], "title": "ω (rad.s⁻¹)"}},
        "y": {"field": "v", "type": "quantitative", "scale": {"domain": [0, 600], "nice": false}, "axis": {"values": [0, 150, 300, 450, 600], "title": "Storage modulus/G' (pa)"}}
      },
      "resolve": {"scale": {"color": "independent", "shape": "independent", "stroke": "independent"}},
      "layer": [
        {"mark": {"type": "line", "strokeWidth": 22, "strokeJoin": "round"},
         "encoding": {"color": {"field": "s", "type": "nominal", "scale": {"domain": ["Y", "CB-Y", "3CB-Y", "5CB-Y", "5CB"], "range": ["#dccbf5", "#8cc4e8", "#ffab80", "#88d8de", "#fbbccb"]}, "legend": null}}},
        {"mark": {"type": "point", "filled": true, "fill": "white", "strokeWidth": 2, "size": 700, "opacity": 1},
         "encoding": {
           "shape": {"field": "s", "type": "nominal", "scale": {"domain": ["Y", "CB-Y", "3CB-Y", "5CB-Y", "5CB"], "range": ["M0,-1.1L1.046,-0.34L0.647,0.89L-0.647,0.89L-1.046,-0.34Z", "square", "circle", "triangle-up", "diamond"]}, "legend": null},
           "stroke": {"field": "s", "type": "nominal", "scale": {"domain": ["Y", "CB-Y", "3CB-Y", "5CB-Y", "5CB"], "range": ["#aaaaaa", "#ff4d4d", "#a6a6ff", "#f08cf0", "#9cd99c"]}, "legend": null}}},
        {"transform": [{"filter": {"field": "w", "equal": 100}}],
         "mark": {"type": "point", "filled": true, "opacity": 0, "size": 10},
         "encoding": {
           "shape": {"field": "s", "type": "nominal", "scale": {"domain": ["Y", "CB-Y", "3CB-Y", "5CB-Y", "5CB"], "range": ["M-1.375,-0.268L1.375,-0.268A0.268,0.268 0 0 1 1.375,0.268L-1.375,0.268A0.268,0.268 0 0 1 -1.375,-0.268Z", "M-1.375,-0.268L1.375,-0.268A0.268,0.268 0 0 1 1.375,0.268L-1.375,0.268A0.268,0.268 0 0 1 -1.375,-0.268Z", "M-1.375,-0.268L1.375,-0.268A0.268,0.268 0 0 1 1.375,0.268L-1.375,0.268A0.268,0.268 0 0 1 -1.375,-0.268Z", "M-1.375,-0.268L1.375,-0.268A0.268,0.268 0 0 1 1.375,0.268L-1.375,0.268A0.268,0.268 0 0 1 -1.375,-0.268Z", "M-1.375,-0.268L1.375,-0.268A0.268,0.268 0 0 1 1.375,0.268L-1.375,0.268A0.268,0.268 0 0 1 -1.375,-0.268Z"]},
             "legend": {"title": null, "orient": "none", "direction": "horizontal", "legendX": 54.5, "legendY": 9, "columns": 3, "columnPadding": 14, "rowPadding": 12, "padding": 0, "symbolSize": 8000, "symbolStrokeWidth": 2.5, "symbolStrokeColor": "transparent", "symbolOpacity": 1, "labelFont": "Liberation Sans", "labelFontSize": 58, "labelFontWeight": "bold", "labelColor": "black", "labelOffset": 33.5, "labelLimit": 600, "zindex": 1}},
           "color": {"field": "s", "type": "nominal", "scale": {"domain": ["Y", "CB-Y", "3CB-Y", "5CB-Y", "5CB"], "range": ["#dccbf5", "#8cc4e8", "#ffab80", "#88d8de", "#fbbccb"]},
             "legend": {"title": null, "orient": "none", "direction": "horizontal", "legendX": 54.5, "legendY": 9, "columns": 3, "columnPadding": 14, "rowPadding": 12, "padding": 0, "symbolSize": 8000, "symbolStrokeWidth": 2.5, "symbolStrokeColor": "transparent", "symbolOpacity": 1, "labelFont": "Liberation Sans", "labelFontSize": 58, "labelFontWeight": "bold", "labelColor": "black", "labelOffset": 33.5, "labelLimit": 600, "zindex": 1}}}},
        {"transform": [{"filter": {"field": "w", "equal": 100}}],
         "mark": {"type": "point", "filled": true, "fill": "white", "opacity": 0, "size": 10},
         "encoding": {
           "shape": {"field": "s", "type": "nominal", "scale": {"domain": ["Y", "CB-Y", "3CB-Y", "5CB-Y", "5CB"], "range": ["M0,-0.279L0.266,-0.087L0.164,0.227L-0.164,0.227L-0.266,-0.087ZM-1.644,0ZM1.644,0Z", "M-0.23,-0.23H0.23V0.23H-0.23ZM-1.644,0ZM1.644,0Z", "M0.263,0A0.263,0.263 0 1 1 -0.263,0A0.263,0.263 0 1 1 0.263,0ZM-1.644,0ZM1.644,0Z", "M0,-0.312L0.279,0.197L-0.279,0.197ZM-1.644,0ZM1.644,0Z", "M0,-0.329L0.214,0L0,0.329L-0.214,0ZM-1.644,0ZM1.644,0Z"]},
             "legend": {"title": null, "orient": "none", "direction": "horizontal", "legendX": 54.5, "legendY": 9, "columns": 3, "columnPadding": 14, "rowPadding": 12, "padding": 0, "symbolSize": 8000, "symbolStrokeWidth": 2.5, "symbolFillColor": "white", "symbolOpacity": 1, "labelFont": "Liberation Sans", "labelFontSize": 58, "labelFontWeight": "bold", "labelColor": "black", "labelOpacity": 0, "labelOffset": 33.5, "labelLimit": 600, "zindex": 2}},
           "stroke": {"field": "s", "type": "nominal", "scale": {"domain": ["Y", "CB-Y", "3CB-Y", "5CB-Y", "5CB"], "range": ["#aaaaaa", "#ff4d4d", "#a6a6ff", "#f08cf0", "#9cd99c"]},
             "legend": {"title": null, "orient": "none", "direction": "horizontal", "legendX": 54.5, "legendY": 9, "columns": 3, "columnPadding": 14, "rowPadding": 12, "padding": 0, "symbolSize": 8000, "symbolStrokeWidth": 2.5, "symbolFillColor": "white", "symbolOpacity": 1, "labelFont": "Liberation Sans", "labelFontSize": 58, "labelFontWeight": "bold", "labelColor": "black", "labelOpacity": 0, "labelOffset": 33.5, "labelLimit": 600, "zindex": 2}}}}
      ]
    },
    {
      "data": {"name": "c"},
      "width": 1030, "height": 830,
      "title": {"text": "(c)", "anchor": "start", "frame": "group", "orient": "top", "fontSize": 80, "fontWeight": "bold", "font": "Liberation Sans", "color": "black", "offset": 0, "dx": -354, "dy": 86},
      "encoding": {
        "x": {"field": "w", "type": "quantitative", "scale": {"domain": [-10, 110], "nice": false, "zero": false}, "axis": {"values": [0, 20, 40, 60, 80, 100], "title": "ω (rad.s⁻¹)"}},
        "y": {"field": "v", "type": "quantitative", "scale": {"domain": [0, 150], "nice": false}, "axis": {"values": [0, 50, 100, 150], "title": "Loss modulus/G'' (pa)"}}
      },
      "resolve": {"scale": {"color": "independent", "shape": "independent", "stroke": "independent"}},
      "layer": [
        {"mark": {"type": "line", "strokeWidth": 22, "strokeJoin": "round"},
         "encoding": {"color": {"field": "s", "type": "nominal", "scale": {"domain": ["Y", "CB-Y", "3CB-Y", "5CB-Y", "5CB"], "range": ["#dccbf5", "#8cc4e8", "#ffab80", "#88d8de", "#fbbccb"]}, "legend": null}}},
        {"mark": {"type": "point", "filled": true, "fill": "white", "strokeWidth": 2, "size": 700, "opacity": 1},
         "encoding": {
           "shape": {"field": "s", "type": "nominal", "scale": {"domain": ["Y", "CB-Y", "3CB-Y", "5CB-Y", "5CB"], "range": ["M0,-1.1L1.046,-0.34L0.647,0.89L-0.647,0.89L-1.046,-0.34Z", "square", "circle", "triangle-up", "diamond"]}, "legend": null},
           "stroke": {"field": "s", "type": "nominal", "scale": {"domain": ["Y", "CB-Y", "3CB-Y", "5CB-Y", "5CB"], "range": ["#aaaaaa", "#ff4d4d", "#a6a6ff", "#f08cf0", "#9cd99c"]}, "legend": null}}},
        {"transform": [{"filter": {"field": "w", "equal": 100}}],
         "mark": {"type": "point", "filled": true, "opacity": 0, "size": 10},
         "encoding": {
           "shape": {"field": "s", "type": "nominal", "scale": {"domain": ["Y", "CB-Y", "3CB-Y", "5CB-Y", "5CB"], "range": ["M-1.375,-0.268L1.375,-0.268A0.268,0.268 0 0 1 1.375,0.268L-1.375,0.268A0.268,0.268 0 0 1 -1.375,-0.268Z", "M-1.375,-0.268L1.375,-0.268A0.268,0.268 0 0 1 1.375,0.268L-1.375,0.268A0.268,0.268 0 0 1 -1.375,-0.268Z", "M-1.375,-0.268L1.375,-0.268A0.268,0.268 0 0 1 1.375,0.268L-1.375,0.268A0.268,0.268 0 0 1 -1.375,-0.268Z", "M-1.375,-0.268L1.375,-0.268A0.268,0.268 0 0 1 1.375,0.268L-1.375,0.268A0.268,0.268 0 0 1 -1.375,-0.268Z", "M-1.375,-0.268L1.375,-0.268A0.268,0.268 0 0 1 1.375,0.268L-1.375,0.268A0.268,0.268 0 0 1 -1.375,-0.268Z"]},
             "legend": {"title": null, "orient": "none", "direction": "horizontal", "legendX": 54.5, "legendY": 9, "columns": 3, "columnPadding": 14, "rowPadding": 12, "padding": 0, "symbolSize": 8000, "symbolStrokeWidth": 2.5, "symbolStrokeColor": "transparent", "symbolOpacity": 1, "labelFont": "Liberation Sans", "labelFontSize": 58, "labelFontWeight": "bold", "labelColor": "black", "labelOffset": 33.5, "labelLimit": 600, "zindex": 1}},
           "color": {"field": "s", "type": "nominal", "scale": {"domain": ["Y", "CB-Y", "3CB-Y", "5CB-Y", "5CB"], "range": ["#dccbf5", "#8cc4e8", "#ffab80", "#88d8de", "#fbbccb"]},
             "legend": {"title": null, "orient": "none", "direction": "horizontal", "legendX": 54.5, "legendY": 9, "columns": 3, "columnPadding": 14, "rowPadding": 12, "padding": 0, "symbolSize": 8000, "symbolStrokeWidth": 2.5, "symbolStrokeColor": "transparent", "symbolOpacity": 1, "labelFont": "Liberation Sans", "labelFontSize": 58, "labelFontWeight": "bold", "labelColor": "black", "labelOffset": 33.5, "labelLimit": 600, "zindex": 1}}}},
        {"transform": [{"filter": {"field": "w", "equal": 100}}],
         "mark": {"type": "point", "filled": true, "fill": "white", "opacity": 0, "size": 10},
         "encoding": {
           "shape": {"field": "s", "type": "nominal", "scale": {"domain": ["Y", "CB-Y", "3CB-Y", "5CB-Y", "5CB"], "range": ["M0,-0.279L0.266,-0.087L0.164,0.227L-0.164,0.227L-0.266,-0.087ZM-1.644,0ZM1.644,0Z", "M-0.23,-0.23H0.23V0.23H-0.23ZM-1.644,0ZM1.644,0Z", "M0.263,0A0.263,0.263 0 1 1 -0.263,0A0.263,0.263 0 1 1 0.263,0ZM-1.644,0ZM1.644,0Z", "M0,-0.312L0.279,0.197L-0.279,0.197ZM-1.644,0ZM1.644,0Z", "M0,-0.329L0.214,0L0,0.329L-0.214,0ZM-1.644,0ZM1.644,0Z"]},
             "legend": {"title": null, "orient": "none", "direction": "horizontal", "legendX": 54.5, "legendY": 9, "columns": 3, "columnPadding": 14, "rowPadding": 12, "padding": 0, "symbolSize": 8000, "symbolStrokeWidth": 2.5, "symbolFillColor": "white", "symbolOpacity": 1, "labelFont": "Liberation Sans", "labelFontSize": 58, "labelFontWeight": "bold", "labelColor": "black", "labelOpacity": 0, "labelOffset": 33.5, "labelLimit": 600, "zindex": 2}},
           "stroke": {"field": "s", "type": "nominal", "scale": {"domain": ["Y", "CB-Y", "3CB-Y", "5CB-Y", "5CB"], "range": ["#aaaaaa", "#ff4d4d", "#a6a6ff", "#f08cf0", "#9cd99c"]},
             "legend": {"title": null, "orient": "none", "direction": "horizontal", "legendX": 54.5, "legendY": 9, "columns": 3, "columnPadding": 14, "rowPadding": 12, "padding": 0, "symbolSize": 8000, "symbolStrokeWidth": 2.5, "symbolFillColor": "white", "symbolOpacity": 1, "labelFont": "Liberation Sans", "labelFontSize": 58, "labelFontWeight": "bold", "labelColor": "black", "labelOpacity": 0, "labelOffset": 33.5, "labelLimit": 600, "zindex": 2}}}}
      ]
    },
    {
      "data": {"name": "d"},
      "width": 1030, "height": 830,
      "title": {"text": "(d)", "anchor": "start", "frame": "group", "orient": "top", "fontSize": 80, "fontWeight": "bold", "font": "Liberation Sans", "color": "black", "offset": 0, "dx": -358, "dy": 86},
      "encoding": {
        "x": {"field": "w", "type": "quantitative", "scale": {"domain": [-10, 110], "nice": false, "zero": false}, "axis": {"values": [0, 20, 40, 60, 80, 100], "title": "ω (rad.s⁻¹)"}},
        "y": {"field": "v", "type": "quantitative", "scale": {"domain": [0, 150], "nice": false}, "axis": {"values": [0, 50, 100, 150], "title": "Loss modulus/G'' (pa)"}}
      },
      "resolve": {"scale": {"color": "independent", "shape": "independent", "stroke": "independent"}},
      "layer": [
        {"mark": {"type": "line", "strokeWidth": 22, "strokeJoin": "round"},
         "encoding": {"color": {"field": "s", "type": "nominal", "scale": {"domain": ["Y", "CB-Y", "3CB-Y", "5CB-Y", "5CB"], "range": ["#dccbf5", "#8cc4e8", "#ffab80", "#88d8de", "#fbbccb"]}, "legend": null}}},
        {"mark": {"type": "point", "filled": true, "fill": "white", "strokeWidth": 2, "size": 700, "opacity": 1},
         "encoding": {
           "shape": {"field": "s", "type": "nominal", "scale": {"domain": ["Y", "CB-Y", "3CB-Y", "5CB-Y", "5CB"], "range": ["M0,-1.1L1.046,-0.34L0.647,0.89L-0.647,0.89L-1.046,-0.34Z", "square", "circle", "triangle-up", "diamond"]}, "legend": null},
           "stroke": {"field": "s", "type": "nominal", "scale": {"domain": ["Y", "CB-Y", "3CB-Y", "5CB-Y", "5CB"], "range": ["#aaaaaa", "#ff4d4d", "#a6a6ff", "#f08cf0", "#9cd99c"]}, "legend": null}}},
        {"transform": [{"filter": {"field": "w", "equal": 100}}],
         "mark": {"type": "point", "filled": true, "opacity": 0, "size": 10},
         "encoding": {
           "shape": {"field": "s", "type": "nominal", "scale": {"domain": ["Y", "CB-Y", "3CB-Y", "5CB-Y", "5CB"], "range": ["M-1.375,-0.268L1.375,-0.268A0.268,0.268 0 0 1 1.375,0.268L-1.375,0.268A0.268,0.268 0 0 1 -1.375,-0.268Z", "M-1.375,-0.268L1.375,-0.268A0.268,0.268 0 0 1 1.375,0.268L-1.375,0.268A0.268,0.268 0 0 1 -1.375,-0.268Z", "M-1.375,-0.268L1.375,-0.268A0.268,0.268 0 0 1 1.375,0.268L-1.375,0.268A0.268,0.268 0 0 1 -1.375,-0.268Z", "M-1.375,-0.268L1.375,-0.268A0.268,0.268 0 0 1 1.375,0.268L-1.375,0.268A0.268,0.268 0 0 1 -1.375,-0.268Z", "M-1.375,-0.268L1.375,-0.268A0.268,0.268 0 0 1 1.375,0.268L-1.375,0.268A0.268,0.268 0 0 1 -1.375,-0.268Z"]},
             "legend": {"title": null, "orient": "none", "direction": "horizontal", "legendX": 54.5, "legendY": 9, "columns": 3, "columnPadding": 14, "rowPadding": 12, "padding": 0, "symbolSize": 8000, "symbolStrokeWidth": 2.5, "symbolStrokeColor": "transparent", "symbolOpacity": 1, "labelFont": "Liberation Sans", "labelFontSize": 58, "labelFontWeight": "bold", "labelColor": "black", "labelOffset": 33.5, "labelLimit": 600, "zindex": 1}},
           "color": {"field": "s", "type": "nominal", "scale": {"domain": ["Y", "CB-Y", "3CB-Y", "5CB-Y", "5CB"], "range": ["#dccbf5", "#8cc4e8", "#ffab80", "#88d8de", "#fbbccb"]},
             "legend": {"title": null, "orient": "none", "direction": "horizontal", "legendX": 54.5, "legendY": 9, "columns": 3, "columnPadding": 14, "rowPadding": 12, "padding": 0, "symbolSize": 8000, "symbolStrokeWidth": 2.5, "symbolStrokeColor": "transparent", "symbolOpacity": 1, "labelFont": "Liberation Sans", "labelFontSize": 58, "labelFontWeight": "bold", "labelColor": "black", "labelOffset": 33.5, "labelLimit": 600, "zindex": 1}}}},
        {"transform": [{"filter": {"field": "w", "equal": 100}}],
         "mark": {"type": "point", "filled": true, "fill": "white", "opacity": 0, "size": 10},
         "encoding": {
           "shape": {"field": "s", "type": "nominal", "scale": {"domain": ["Y", "CB-Y", "3CB-Y", "5CB-Y", "5CB"], "range": ["M0,-0.279L0.266,-0.087L0.164,0.227L-0.164,0.227L-0.266,-0.087ZM-1.644,0ZM1.644,0Z", "M-0.23,-0.23H0.23V0.23H-0.23ZM-1.644,0ZM1.644,0Z", "M0.263,0A0.263,0.263 0 1 1 -0.263,0A0.263,0.263 0 1 1 0.263,0ZM-1.644,0ZM1.644,0Z", "M0,-0.312L0.279,0.197L-0.279,0.197ZM-1.644,0ZM1.644,0Z", "M0,-0.329L0.214,0L0,0.329L-0.214,0ZM-1.644,0ZM1.644,0Z"]},
             "legend": {"title": null, "orient": "none", "direction": "horizontal", "legendX": 54.5, "legendY": 9, "columns": 3, "columnPadding": 14, "rowPadding": 12, "padding": 0, "symbolSize": 8000, "symbolStrokeWidth": 2.5, "symbolFillColor": "white", "symbolOpacity": 1, "labelFont": "Liberation Sans", "labelFontSize": 58, "labelFontWeight": "bold", "labelColor": "black", "labelOpacity": 0, "labelOffset": 33.5, "labelLimit": 600, "zindex": 2}},
           "stroke": {"field": "s", "type": "nominal", "scale": {"domain": ["Y", "CB-Y", "3CB-Y", "5CB-Y", "5CB"], "range": ["#aaaaaa", "#ff4d4d", "#a6a6ff", "#f08cf0", "#9cd99c"]},
             "legend": {"title": null, "orient": "none", "direction": "horizontal", "legendX": 54.5, "legendY": 9, "columns": 3, "columnPadding": 14, "rowPadding": 12, "padding": 0, "symbolSize": 8000, "symbolStrokeWidth": 2.5, "symbolFillColor": "white", "symbolOpacity": 1, "labelFont": "Liberation Sans", "labelFontSize": 58, "labelFontWeight": "bold", "labelColor": "black", "labelOpacity": 0, "labelOffset": 33.5, "labelLimit": 600, "zindex": 2}}}}
      ]
    }
  ],
  "config": {
    "font": "Liberation Sans",
    "view": {"stroke": "black", "strokeWidth": 6},
    "axis": {"grid": false, "domainColor": "black", "domainWidth": 6, "tickColor": "black", "tickWidth": 5, "tickSize": 13, "labelFont": "Liberation Sans", "labelFontSize": 66, "labelFontWeight": "bold", "labelColor": "black", "labelPadding": 12, "titleFont": "Liberation Sans", "titleFontSize": 64, "titleFontWeight": "bold", "titleColor": "black"},
    "axisX": {"titlePadding": 36},
    "axisY": {"titlePadding": 21}
  }
}
